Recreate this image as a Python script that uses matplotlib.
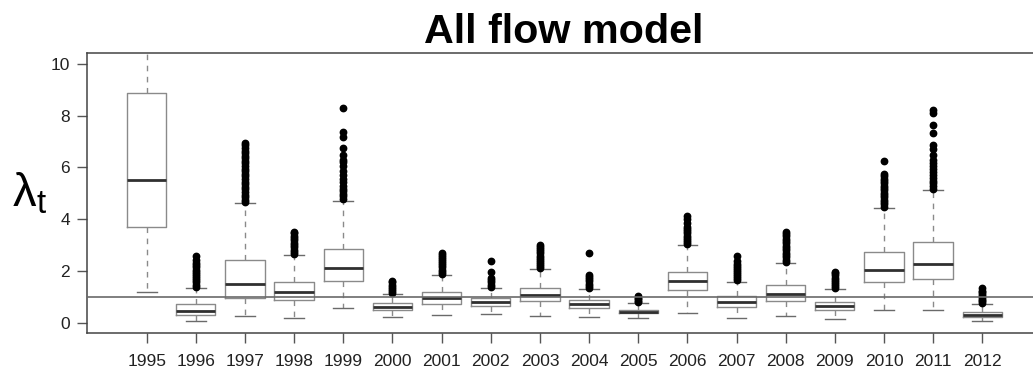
# -*- coding: utf-8 -*-

'''
Yearly boxplots of the growth rate lambda_t for the all flow model.
'''

import matplotlib
matplotlib.use('Agg')

import matplotlib.pyplot as plt

plt.rcParams['font.family'] = ['Liberation Sans', 'DejaVu Sans']
plt.rcParams['mathtext.fontset'] = 'custom'
plt.rcParams['mathtext.rm'] = 'Liberation Sans'
plt.rcParams['mathtext.it'] = 'Liberation Sans'

years = ['1995', '1996', '1997', '1998', '1999', '2000', '2001', '2002',
         '2003', '2004', '2005', '2006', '2007', '2008', '2009', '2010',
         '2011', '2012']

# Box statistics per year: lower whisker, Q1, median, Q3, upper whisker.
whis_lo = [1.20, 0.09, 0.27, 0.20, 0.58, 0.23, 0.31, 0.36, 0.28, 0.23,
           0.19, 0.39, 0.19, 0.28, 0.17, 0.51, 0.51, 0.06]
q1_vals = [3.69, 0.31, 0.96, 0.90, 1.63, 0.49, 0.73, 0.67, 0.85, 0.56,
           0.37, 1.27, 0.62, 0.86, 0.50, 1.57, 1.70, 0.22]
med_vals = [5.51, 0.47, 1.49, 1.21, 2.10, 0.62, 0.95, 0.80, 1.08, 0.73,
            0.44, 1.61, 0.80, 1.12, 0.64, 2.06, 2.26, 0.32]
q3_vals = [8.88, 0.73, 2.41, 1.58, 2.87, 0.77, 1.20, 0.96, 1.35, 0.87,
           0.51, 1.97, 1.02, 1.45, 0.82, 2.73, 3.11, 0.42]
whis_hi = [12.00, 1.36, 4.61, 2.61, 4.71, 1.12, 1.85, 1.36, 2.07, 1.32,
           0.75, 3.00, 1.59, 2.30, 1.31, 4.44, 5.12, 0.72]

# Outlying values above the upper whisker.
outliers = [
    [],
    [1.40, 1.48, 1.56, 1.64, 1.72, 1.80, 1.88, 1.96, 2.05, 2.14, 2.22,
     2.32, 2.42, 2.57],
    [4.65, 4.75, 4.85, 4.95, 5.05, 5.15, 5.25, 5.35, 5.45, 5.55, 5.65,
     5.75, 5.85, 5.95, 6.05, 6.15, 6.25, 6.35, 6.45, 6.55, 6.65, 6.75,
     6.85, 6.95],
    [2.65, 2.74, 2.83, 2.92, 3.01, 3.10, 3.19, 3.28, 3.37, 3.45, 3.52],
    [4.78, 4.88, 4.98, 5.08, 5.18, 5.30, 5.42, 5.55, 5.70, 5.85, 6.05,
     6.20, 6.30, 6.48, 6.75, 7.18, 7.35, 8.30],
    [1.16, 1.24, 1.32, 1.40, 1.48, 1.56, 1.61],
    [1.90, 1.98, 2.06, 2.14, 2.22, 2.30, 2.38, 2.46, 2.54, 2.62, 2.70],
    [1.40, 1.48, 1.56, 1.64, 1.72, 1.97, 2.37],
    [2.12, 2.20, 2.28, 2.36, 2.44, 2.52, 2.60, 2.68, 2.76, 2.84, 2.93,
     3.02],
    [1.36, 1.44, 1.52, 1.60, 1.68, 1.76, 1.86, 2.70],
    [0.79, 0.85, 0.91, 0.97, 1.03],
    [3.05, 3.13, 3.21, 3.29, 3.37, 3.45, 3.53, 3.61, 3.70, 3.85, 4.00,
     4.14],
    [1.64, 1.72, 1.80, 1.88, 1.96, 2.04, 2.12, 2.20, 2.28, 2.38, 2.60],
    [2.35, 2.44, 2.53, 2.62, 2.71, 2.80, 2.89, 2.98, 3.07, 3.16, 3.25,
     3.34, 3.42, 3.50],
    [1.35, 1.43, 1.51, 1.59, 1.67, 1.75, 1.83, 1.91, 1.98],
    [4.48, 4.57, 4.66, 4.75, 4.84, 4.93, 5.02, 5.11, 5.20, 5.29, 5.38,
     5.47, 5.56, 5.65, 5.74, 6.25],
    [5.18, 5.28, 5.38, 5.48, 5.58, 5.70, 5.82, 5.95, 6.05, 6.18, 6.30,
     6.46, 6.70, 6.86, 7.31, 7.62, 8.10, 8.20],
    [0.76, 0.83, 0.90, 0.97, 1.04, 1.11, 1.18, 1.25, 1.35],
]

ref_level = 1.0

y_ticks = [0, 2, 4, 6, 8, 10]


def plot_boxes(ax):

    stats = []
    for i in range(len(years)):
        stats.append({
            'whislo': whis_lo[i],
            'q1': q1_vals[i],
            'med': med_vals[i],
            'q3': q3_vals[i],
            'whishi': whis_hi[i],
            'fliers': outliers[i],
            })

    ax.bxp(
        stats,
        positions=range(1, len(years) + 1),
        widths=0.8,
        capwidths=0.4,
        boxprops=dict(color='#8a8a8a', lw=1.0),
        whiskerprops=dict(color='#8a8a8a', lw=1.0, ls=(0, (4, 4))),
        capprops=dict(color='#6a6a6a', lw=1.0),
        medianprops=dict(color='#303030', lw=2.0),
        flierprops=dict(
            marker='o', markerfacecolor='black', markeredgecolor='black',
            markersize=4.6))

    ax.axhline(ref_level, color='#6a6a6a', lw=1.2, zorder=3)

    ax.set_ylim(-0.4, 10.4)
    ax.set_xlim(-0.221, 19.236)

    ax.set_yticks(y_ticks)
    ax.set_yticklabels([str(t) for t in y_ticks])
    ax.set_xticks(range(1, len(years) + 1))
    ax.set_xticklabels(years)

    ax.tick_params(axis='both', colors='#555555', labelcolor='#222222',
                   length=7, width=1.0, labelsize=12.5)
    ax.tick_params(axis='x', pad=8)
    ax.tick_params(axis='y', pad=5)

    for side in ('left', 'bottom', 'top'):
        ax.spines[side].set_color('#444444')
        ax.spines[side].set_linewidth(1.1)
    ax.spines['right'].set_visible(False)
    return


def main():

    fig = plt.figure(figsize=(10.33, 3.72), dpi=100)

    ax = fig.add_axes([0.0839, 0.104, 0.9258, 0.7527])

    plot_boxes(ax)

    fig.text(0.546, 0.884, 'All flow model', ha='center', va='baseline',
             fontsize=29.7, fontweight='bold')

    fig.text(0.012, 0.444, r'$\mathrm{\lambda}_{\mathrm{t}}$',
             ha='left', va='baseline', fontsize=34)

    fig.savefig('out.png', dpi=100)
    plt.close(fig)
    return


if __name__ == '__main__':
    main()
